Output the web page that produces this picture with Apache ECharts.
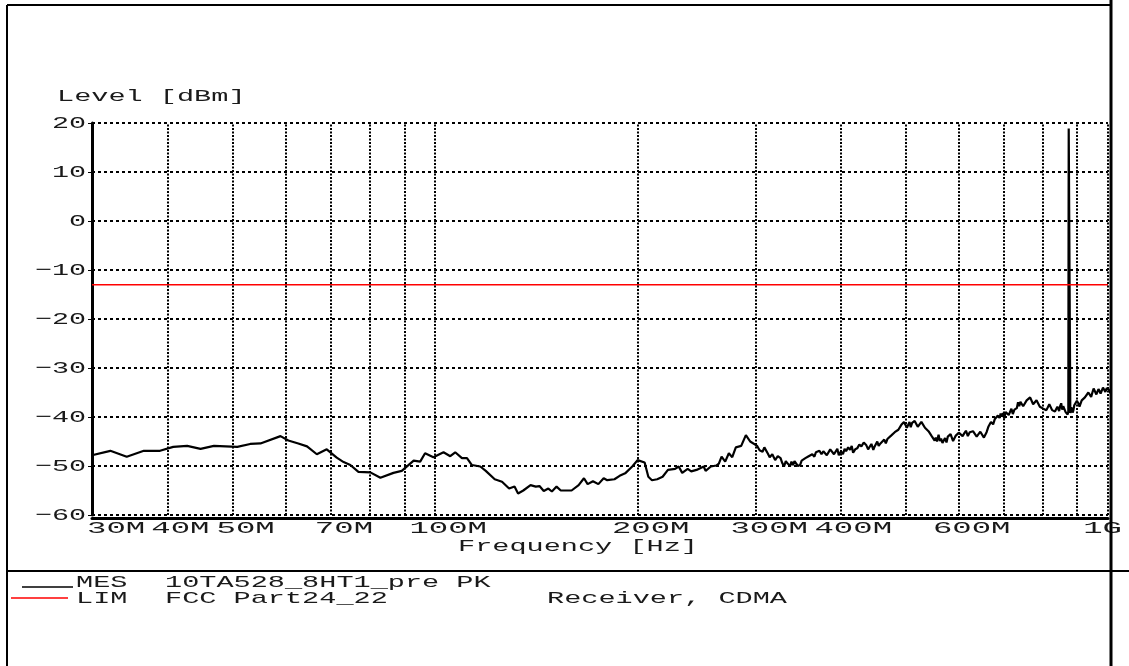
<!DOCTYPE html>
<html><head><meta charset="utf-8">
<script src="https://cdn.jsdelivr.net/npm/echarts@6/dist/echarts.min.js"></script>
<style>html,body{margin:0;padding:0;background:#fff}#c{width:1129px;height:666px}</style>
</head><body><div id="c"></div>
<script>
// ---- data: MES trace as [frequency MHz, level dBm] ----
const mesPoints = [
[30.9,-47.8],[32.9,-46.9],[34.8,-48.1],[36.9,-46.9],[39.0,-46.9],[40.8,-46.1],[42.8,-45.9],[44.8,-46.5],[46.9,-45.9],[50.8,-46.1],
[53.1,-45.5],[55.0,-45.4],[58.9,-43.9],[60.5,-44.8],[62.6,-45.4],[64.5,-46.0],[66.7,-47.6],[69.0,-46.6],[71.4,-48.3],[73.1,-49.2],
[74.8,-49.8],[76.9,-51.2],[80.1,-51.3],[82.9,-52.4],[86.7,-51.4],[89.2,-51.0],[92.9,-48.9],[95.0,-49.1],[96.6,-47.4],[99.4,-48.2],
[102.9,-47.2],[105.3,-48.0],[107.1,-47.2],[109.6,-48.4],[111.5,-48.4],[113.4,-49.8],[116.7,-50.1],[118.9,-51.0],[122.6,-52.7],[125.7,-53.2],
[128.8,-54.6],[131.2,-54.2],[132.8,-55.6],[135.2,-55.0],[138.6,-53.9],[141.1,-54.2],[142.9,-54.1],[145.0,-55.1],[147.3,-54.6],[149.1,-55.2],
[151.5,-54.2],[153.7,-55.0],[159.5,-55.0],[163.4,-53.9],[166.4,-52.5],[168.5,-53.7],[171.6,-53.1],[174.8,-53.7],[178.0,-52.5],[180.2,-52.9],
[184.7,-52.7],[188.0,-52.0],[191.6,-51.5],[196.3,-50.1],[199.9,-48.8],[204.8,-49.3],[207.4,-52.2],[210.0,-52.9],[213.8,-52.7],[217.8,-52.2],
[221.8,-50.8],[227.3,-50.6],[230.1,-50.1],[232.9,-51.4],[237.3,-50.6],[240.2,-51.1],[244.6,-50.8],[250.7,-50.1],[252.3,-51.0],[256.9,-50.1],
[261.7,-49.9],[264,-49.5],[266.5,-48.1],[269.8,-49.1],[273.2,-47.4],[276.4,-48.2],[279.8,-46.2],[285.0,-45.9],[289.6,-43.7],[293.9,-45.0],
[301.0,-45.9],[303.5,-46.8],[306.6,-47.1],[308.5,-46.2],[310.5,-46.0],[312.3,-47.5],[314.2,-48.2],[317,-47.6],[320.1,-48.8],[323,-48.0],
[326.1,-48.4],[328,-49.4],[330.0,-50.1],[332,-49.0],[334.1,-49.5],[337,-50.0],[338.5,-49.1],[340.3,-49.8],[342,-49.0],[344,-49.2],
[346,-50.0],[348.6,-49.8],[350.5,-48.9],[352,-49.0],[355,-48.4],[357.2,-48.8],[359,-48.0],[361,-48.3],[363.5,-47.6],[366.1,-48.1],
[368,-47.2],[370,-47.6],[372.5,-46.9],[375.1,-47.6],[377.5,-47.0],[380,-47.0],[382,-47.8],[384.4,-47.4],[386.5,-46.6],[389,-46.9],
[391.5,-47.6],[393.9,-47.2],[396,-46.5],[398,-47.8],[401,-47.0],[403.7,-47.6],[406,-46.5],[408,-47.0],[411,-46.2],[413.6,-46.7],
[416,-45.9],[418,-47.3],[421,-46.6],[423.9,-46.4],[427,-45.6],[430,-46.0],[433.5,-45.2],[437.1,-45.7],[440,-46.6],[442,-46.3],
[445,-45.5],[447.9,-46.7],[450,-46.0],[452,-45.9],[454,-45.0],[456.2,-45.9],[459,-45.4],[462,-45.2],[465,-44.6],[467.5,-45.4],
[470,-44.5],[473,-44.6],[476,-43.8],[479.1,-44.0],[482,-43.1],[485,-43.4],[488,-42.6],[490.9,-42.7],[493,-41.6],[495,-41.8],
[497.5,-41.0],[500.0,-41.4],[502.5,-42.2],[505,-41.9],[507,-41.0],[509.1,-42.1],[511.5,-41.2],[514,-41.4],[516,-40.8],[518.6,-41.2],
[521.5,-42.0],[525,-41.6],[528,-41.0],[531.4,-41.3],[534.5,-42.2],[538,-42.0],[541,-42.9],[544.6,-42.7],[547,-43.9],[550,-43.8],
[552.5,-44.8],[554.6,-44.2],[557,-45.0],[560,-43.6],[562.5,-44.9],[564.9,-44.4],[567.5,-45.3],[570,-45.0],[572.5,-44.3],[575.4,-45.2],
[578,-44.0],[581,-44.3],[583.5,-43.5],[586.1,-43.9],[588.5,-44.9],[591,-44.6],[594,-43.8],[596.8,-44.2],[600,-43.2],[604,-43.4],
[608,-43.9],[611.7,-43.3],[615,-42.8],[619,-43.9],[623,-43.1],[626.7,-43.5],[630,-42.9],[634,-43.2],[638,-44.0],[642.3,-43.7],
[646,-43.0],[650,-43.2],[654,-44.2],[658.3,-44.0],[660,-43.1],[662,-43.0],[664,-42.0],[666.4,-42.0],[670,-41.0],[675,-41.5],
[679,-40.4],[682.8,-40.6],[686,-39.7],[690,-40.2],[692.5,-39.3],[695.5,-39.9],[698,-39.2],[701,-40.3],[704.5,-39.0],[708.3,-38.6],
[712,-39.6],[715.4,-38.9],[718.5,-38.3],[722,-39.4],[726,-38.5],[731.9,-38.2],[735,-37.0],[738,-37.8],[741,-36.9],[744.6,-36.5],
[748,-37.8],[753.1,-37.6],[757,-36.6],[762,-36.9],[766,-36.0],[770.5,-36.4],[774,-37.4],[779,-37.2],[783,-36.6],[788.1,-36.9],
[792,-37.9],[797,-37.5],[801,-38.3],[806.4,-37.9],[810,-38.6],[815,-38.3],[818,-37.4],[822,-37.6],[826,-38.6],[829.6,-38.2],
[834,-38.9],[838,-38.8],[841,-37.9],[843,-38.0],[846,-38.8],[848.9,-37.8],[852,-37.2],[855,-38.5],[858,-37.8],[862,-38.1],
[865,-39.0],[868.5,-38.6],[871,-39.5],[873,-38.9],[874.2,18.9],[877.8,18.9],[879,-39.2],[882,-38.0],[884,-38.3],[886,-39.1],
[888.4,-38.6],[891,-37.6],[895,-37.6],[899,-36.7],[903.5,-37.2],[907,-37.9],[910,-37.6],[914,-36.6],[919.1,-36.9],[924,-36.0],
[930,-35.9],[935,-35.0],[940.5,-35.2],[944,-35.9],[948,-35.0],[952,-34.2],[956.6,-34.6],[961,-35.4],[965,-35.3],[968,-34.3],
[972,-34.5],[975,-35.2],[978.7,-34.8],[983,-34.0],[987,-34.1],[991,-34.9],[995.6,-34.1],[999,-33.9],[1003,-34.4],[1007,-35.0],
[1012.8,-34.8],[1016,-35.2],[1020,-35.6],[1025,-36.3],[1030.2,-36.9]
];
// ---- LIM line ----
const limFreqMHz = [30.9, 1000];
const limLevel = [-13, -13];
// ---- axis ticks / grid ----
const gridFreqMHz = [40,50,60,70,80,90,100,200,300,400,500,600,700,800,900,1000];
const xTickValues = [30,40,50,70,100,200,300,400,600,1000];
const xTickLabels = ['30M','40M','50M','70M','100M','200M','300M','400M','600M','1G'];
const yTickValues = [20,10,0,-10,-20,-30,-40,-50,-60];
const yTickLabels = ['20','10','0','\u221210','\u221220','\u221230','\u221240','\u221250','\u221260'];

const chart = echarts.init(document.getElementById('c'), null, {renderer: 'canvas'});
const FS = 17;
const FONT = FS + 'px "Liberation Mono"';
const TXT = '#1a1a1a';

chart.setOption({
  animation: false,
  backgroundColor: '#ffffff',
  grid: {left: 92, right: 21, top: 123, bottom: 151},
  xAxis: {
    type: 'log', logBase: 10, min: 30.9, max: 1000, offset: 3,
    axisLine: {show: true, onZero: false, lineStyle: {color: '#000', width: 3}},
    axisTick: {show: false}, axisLabel: {show: false},
    splitLine: {show: false}, minorTick: {show: false}, minorSplitLine: {show: false}
  },
  yAxis: {
    type: 'value', min: -60, max: 20, interval: 10,
    axisLine: {show: true, lineStyle: {color: '#000', width: 3}},
    axisTick: {show: true, length: 4, lineStyle: {color: '#000', width: 1}},
    axisLabel: {show: false},
    splitLine: {show: true, lineStyle: {color: '#000', width: 2, type: [3, 3]}}
  },
  series: [
    {
      name: 'MES', type: 'line', symbol: 'none', showSymbol: false, clip: false,
      data: mesPoints,
      lineStyle: {color: '#000', width: 2.2}, z: 3,
      emphasis: {disabled: true},
      markLine: {
        silent: true, symbol: ['none', 'none'], label: {show: false},
        emphasis: {disabled: true},
        lineStyle: {color: '#000', width: 2, type: [2, 1.5]},
        data: gridFreqMHz.map(f => ({xAxis: f}))
      }
    },
    {
      name: 'LIM', type: 'line', symbol: 'none', showSymbol: false,
      data: limFreqMHz.map((f, i) => [f, limLevel[i]]),
      lineStyle: {color: '#ff0000', width: 1.5}, z: 4,
      emphasis: {disabled: true}
    }
  ]
});

function txt(text, x, y, align, sx) {
  return {
    type: 'text', x: x, y: y, scaleX: sx, silent: true, z: 10,
    style: {text: text, font: FONT, fill: TXT, align: align, verticalAlign: 'middle',
            textAlign: align, textVerticalAlign: 'middle'}
  };
}
function line(x1, y1, x2, y2, color, w) {
  return {type: 'line', silent: true, z: 10,
          shape: {x1: x1, y1: y1, x2: x2, y2: y2},
          style: {stroke: color, lineWidth: w}};
}

const g = [];
const gridL = 92;
yTickValues.forEach((v, i) => {
  const py = chart.convertToPixel({yAxisIndex: 0}, v);
  g.push(txt(yTickLabels[i], 86, py, 'right', 1.67));
});
const SXX = 1.9;
xTickValues.forEach((v, i) => {
  const px = chart.convertToPixel({xAxisIndex: 0}, v);
  const w = xTickLabels[i].length * FS * 0.6 * SXX;
  let c = px + 13;
  c = Math.max(c, gridL - 5 + w / 2);
  c = Math.min(c, 1122 - w / 2);
  g.push(txt(xTickLabels[i], c, 528, 'center', SXX));
});
g.push(txt('Level [dBm]', 57, 96, 'left', 1.68));
g.push(txt('Frequency [Hz]', 458, 546, 'left', 1.68));
// legend block
g.push(line(22, 587, 73, 587, '#000', 1.5));
g.push(txt('MES', 76, 582, 'left', 1.68));
g.push(txt('10TA528_8HT1_pre PK', 165, 582, 'left', 1.68));
g.push(line(11, 598, 68, 598, '#ff0000', 1.5));
g.push(txt('LIM', 76, 598, 'left', 1.68));
g.push(txt('FCC Part24_22', 165, 598, 'left', 1.68));
g.push(txt('Receiver, CDMA', 547, 598, 'left', 1.68));
// frame
g.push(line(7, 5, 7, 666, '#000', 2));
g.push(line(7, 5, 1111, 5, '#000', 2));
g.push(line(1111, 0, 1111, 666, '#000', 3));
g.push(line(7, 571, 1129, 571, '#000', 2));

chart.setOption({graphic: {elements: g}});
</script>
</body></html>
